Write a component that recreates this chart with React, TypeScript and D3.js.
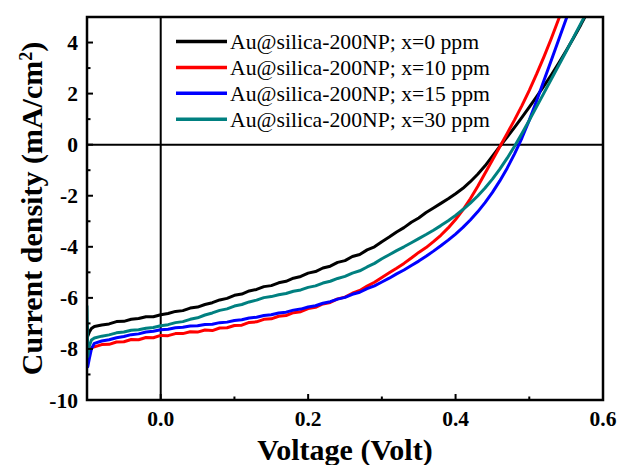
import React from "react";
import * as d3 from "d3";

const voltages = [
  -0.1, -0.099, -0.097, -0.094, -0.09, -0.08, -0.07, -0.06, -0.05, -0.04, -0.03, -0.02, -0.01,
  0.0, 0.01, 0.02, 0.03, 0.04, 0.05, 0.06, 0.07, 0.08, 0.09, 0.1, 0.11, 0.12, 0.13, 0.14, 0.15,
  0.16, 0.17, 0.18, 0.19, 0.2, 0.21, 0.22, 0.23, 0.24, 0.25, 0.26, 0.27, 0.28, 0.29, 0.3, 0.31,
  0.32, 0.33, 0.34, 0.35, 0.36, 0.37, 0.38, 0.39, 0.4, 0.41, 0.42, 0.43, 0.44, 0.45, 0.46, 0.47,
  0.48, 0.49, 0.5, 0.51, 0.52, 0.53, 0.54, 0.55, 0.56, 0.57, 0.58,
];

const jBlack = [
  -7.0, -7.5, -7.35, -7.2, -7.12, -7.06, -7.02, -6.93, -6.92, -6.84, -6.81, -6.74, -6.74,
  -6.66, -6.61, -6.53, -6.5, -6.4, -6.36, -6.26, -6.19, -6.08, -6.02, -5.9, -5.85, -5.73, -5.67, -5.56, -5.52,
  -5.41, -5.35, -5.23, -5.16, -5.03, -4.97, -4.83, -4.76, -4.61, -4.54, -4.38, -4.3, -4.12, -4.0, -3.8, -3.62,
  -3.42, -3.25, -3.04, -2.87, -2.66, -2.48, -2.3, -2.12, -1.92, -1.71, -1.45, -1.16, -0.83, -0.45, -0.07, 0.3,
  0.68, 1.07, 1.47, 1.88, 2.3, 2.74, 3.2, 3.68, 4.18, 4.7, 5.25,
];

const jRed = [
  -7.9, -8.4, -8.1, -7.95, -7.92, -7.83, -7.82, -7.73, -7.72, -7.63, -7.64, -7.55, -7.56,
  -7.47, -7.48, -7.4, -7.4, -7.33, -7.34, -7.26, -7.28, -7.18, -7.17, -7.08, -7.07, -6.96, -6.94, -6.84, -6.82,
  -6.72, -6.69, -6.58, -6.54, -6.42, -6.37, -6.24, -6.18, -6.04, -5.97, -5.82, -5.71, -5.54, -5.39, -5.2, -5.02,
  -4.84, -4.65, -4.44, -4.22, -4.03, -3.8, -3.55, -3.26, -2.93, -2.55, -2.12, -1.64, -1.12, -0.6, -0.08, 0.44,
  0.97, 1.53, 2.13, 2.77, 3.45, 4.17, 4.93, 5.7, 6.5, 7.3, 8.1,
];

const jBlue = [
  -7.6, -8.7, -8.4, -8.0, -7.78, -7.69, -7.64, -7.56, -7.51, -7.44, -7.41, -7.34, -7.31,
  -7.25, -7.23, -7.17, -7.15, -7.1, -7.09, -7.04, -7.03, -6.97, -6.95, -6.89, -6.86, -6.79, -6.76, -6.69, -6.66,
  -6.59, -6.56, -6.48, -6.44, -6.36, -6.31, -6.21, -6.15, -6.05, -5.98, -5.86, -5.78, -5.64, -5.53, -5.38, -5.23,
  -5.06, -4.91, -4.73, -4.56, -4.37, -4.17, -3.96, -3.74, -3.5, -3.24, -2.95, -2.63, -2.27, -1.87, -1.42, -0.92,
  -0.36, 0.26, 0.96, 1.72, 2.52, 3.32, 4.12, 4.92, 5.72, 6.5, 7.3,
];

const jTeal = [
  -6.3, -8.3, -7.9, -7.65, -7.57, -7.5, -7.45, -7.37, -7.34, -7.27, -7.25, -7.19, -7.16,
  -7.09, -7.05, -6.97, -6.93, -6.84, -6.78, -6.67, -6.59, -6.49, -6.43, -6.32, -6.26, -6.16, -6.09, -5.99, -5.95,
  -5.88, -5.83, -5.74, -5.69, -5.59, -5.53, -5.42, -5.35, -5.24, -5.16, -5.03, -4.94, -4.79, -4.65, -4.47, -4.31,
  -4.15, -4.0, -3.84, -3.68, -3.52, -3.35, -3.17, -2.98, -2.77, -2.54, -2.29, -2.01, -1.7, -1.35, -0.96, -0.53,
  -0.06, 0.44, 0.96, 1.49, 2.03, 2.57, 3.11, 3.65, 4.2, 4.75, 5.3,
];

const seriesNames = [
  "Au@silica-200NP; x=0 ppm",
  "Au@silica-200NP; x=10 ppm",
  "Au@silica-200NP; x=15 ppm",
  "Au@silica-200NP; x=30 ppm",
];
const seriesValues = [jBlack, jRed, jBlue, jTeal];
const seriesColors = ["#000000", "#ff0000", "#0000ff", "#008080"];

const xMajorTicks = [0.0, 0.2, 0.4, 0.6];
const xMinorTicks = [-0.1, 0.1, 0.3, 0.5];
const yMajorTicks = [-10, -8, -6, -4, -2, 0, 2, 4];
const yMinorTicks = [-9, -7, -5, -3, -1, 1, 3, 5];

const FONT = "'Liberation Serif', 'Times New Roman', serif";

export default function App() {
  const W = 619;
  const H = 465;
  const left = 87;
  const right = 603;
  const top = 17;
  const bottom = 400;

  const x = d3.scaleLinear().domain([-0.1, 0.6]).range([left, right]);
  const y = d3.scaleLinear().domain([-10, 5]).range([bottom, top]);

  const line = d3
    .line<number>()
    .x((_, i) => x(voltages[i]))
    .y((d) => y(d));

  const majorLen = 6;
  const minorLen = 3.5;

  return (
    <svg
      width={W}
      height={H}
      style={{ position: "absolute", left: 0, top: 0, background: "#fff" }}
      fontFamily={FONT}
    >
      <defs>
        <clipPath id="plotClip">
          <rect x={left} y={top} width={right - left} height={bottom - top} />
        </clipPath>
      </defs>
      <rect x={0} y={0} width={W} height={H} fill="#fff" />

      {/* zero lines */}
      <line x1={left} x2={right} y1={y(0)} y2={y(0)} stroke="#000" strokeWidth={2} />
      <line x1={x(0)} x2={x(0)} y1={top} y2={bottom} stroke="#000" strokeWidth={2} />

      {/* curves */}
      <g clipPath="url(#plotClip)">
        {seriesValues.map((vals, i) => (
          <path
            key={i}
            d={line(vals) || ""}
            fill="none"
            stroke={seriesColors[i]}
            strokeWidth={3}
            strokeLinejoin="round"
          />
        ))}
      </g>

      {/* ticks */}
      {xMajorTicks.map((t) => (
        <g key={"xM" + t}>
          <line x1={x(t)} x2={x(t)} y1={bottom} y2={bottom - majorLen} stroke="#000" strokeWidth={2} />
          <text x={x(t)} y={426} textAnchor="middle" fontSize={21.5} fontWeight="bold">
            {d3.format(".1f")(t)}
          </text>
        </g>
      ))}
      {xMinorTicks.map((t) => (
        <line key={"xm" + t} x1={x(t)} x2={x(t)} y1={bottom} y2={bottom - minorLen} stroke="#000" strokeWidth={2} />
      ))}
      {yMajorTicks.map((t) => (
        <g key={"yM" + t}>
          <line x1={left} x2={left + majorLen} y1={y(t)} y2={y(t)} stroke="#000" strokeWidth={2} />
          <text x={78} y={y(t)} dy="0.35em" textAnchor="end" fontSize={21.5} fontWeight="bold">
            {t}
          </text>
        </g>
      ))}
      {yMinorTicks.map((t) => (
        <line key={"ym" + t} x1={left} x2={left + minorLen} y1={y(t)} y2={y(t)} stroke="#000" strokeWidth={2} />
      ))}

      {/* frame */}
      <rect
        x={left}
        y={top}
        width={right - left}
        height={bottom - top}
        fill="none"
        stroke="#000"
        strokeWidth={2.5}
      />

      {/* legend */}
      {seriesNames.map((name, i) => {
        const ly = 41.5 + i * 25.9;
        return (
          <g key={"leg" + i}>
            <line x1={176} x2={227} y1={ly} y2={ly} stroke={seriesColors[i]} strokeWidth={3.5} />
            <text x={230} y={ly} dy="0.35em" fontSize={21.7}>
              {name}
            </text>
          </g>
        );
      })}

      {/* axis titles */}
      <text x={345} y={460} textAnchor="middle" fontSize={30} fontWeight="bold">
        Voltage (Volt)
      </text>
      <text
        transform={`translate(${42},${(top + bottom) / 2}) rotate(-90)`}
        textAnchor="middle"
        fontSize={30}
        fontWeight="bold"
      >
        Current density (mA/cm
        <tspan baselineShift="super" fontSize={18}>2</tspan>)
      </text>
    </svg>
  );
}
